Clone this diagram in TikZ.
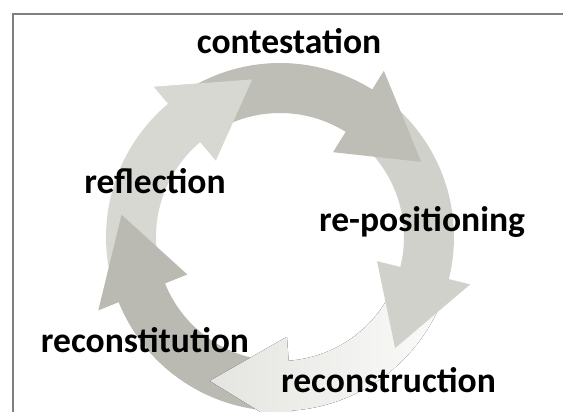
\documentclass[tikz,border=0pt]{standalone}
\usepackage{fontspec}
\setmainfont{Carlito}
\definecolor{framegray}{RGB}{128,128,128}
\definecolor{darkgrey}{RGB}{190,189,182}
\definecolor{deepgrey}{RGB}{186,185,178}
\definecolor{midgrey}{RGB}{209,209,204}
\definecolor{softgrey}{RGB}{216,216,211}
\definecolor{palegrey}{RGB}{228,228,224}
\definecolor{whitegrey}{RGB}{250,250,249}

% one curved arrow of the cycle: #1 = angle of the head base, #2 = fill options
\newcommand{\cyclearrow}[2]{%
  \fill[#2] ({#1+62}:3.1) arc[start angle={#1+62}, end angle=#1, radius=3.1]
    -- (#1:2.5) -- ({#1-30}:4.0) -- (#1:4.9) -- (#1:4.35)
    arc[start angle=#1, end angle={#1+62}, radius=4.35] -- cycle;}
% head only, used to close the loop on top of the first tail
\newcommand{\cyclehead}[2]{%
  \fill[#2] (#1:2.5) -- ({#1-30}:4.0) -- (#1:4.9) -- cycle;}

\begin{document}
\begin{tikzpicture}[
    phase_label/.style={font=\bfseries\fontsize{25.3}{30}\selectfont, anchor=base, inner sep=0pt},
    frame/.style={draw=framegray, line width=1.8pt}
]
    \useasboundingbox (-7,-4.375) rectangle (7.075,5.925);

    % Frame (left and top edges)
    \coordinate (frame_bl) at (-6.675,-4.375);
    \coordinate (frame_tl) at (-6.675,5.575);
    \coordinate (frame_tr) at (7.075,5.575);
    \draw[frame] (frame_bl) -- (frame_tl) -- (frame_tr);

    % Cycle arrows, back to front so each head covers the next tail
    \cyclearrow{130}{softgrey}
    \cyclearrow{-158}{deepgrey}
    \cyclearrow{-86}{left color=palegrey, right color=whitegrey}
    \cyclearrow{-14}{midgrey}
    \cyclearrow{58}{darkgrey}
    \cyclehead{130}{softgrey}

    % Phase names
    \node[phase_label] (contestation) at (0.225,4.6) {contestation};
    \node[phase_label] (repositioning) at (3.55,0.15) {re-positioning};
    \node[phase_label] (reconstruction) at (2.7125,-3.875) {reconstruction};
    \node[phase_label] (reconstitution) at (-3.375,-2.875) {reconstitution};
    \node[phase_label] (reflection) at (-3.125,1.1) {reflection};

\end{tikzpicture}
\end{document}
